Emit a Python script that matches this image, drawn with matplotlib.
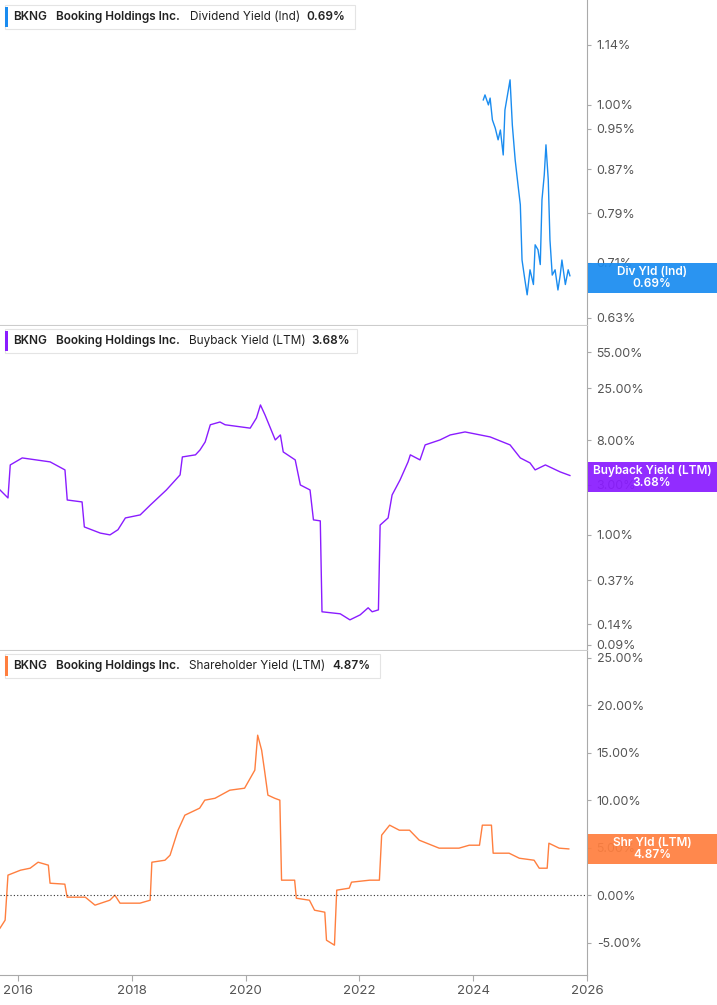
import matplotlib.pyplot as plt
from matplotlib.patches import Rectangle
import numpy as np

plt.rcParams['font.family'] = 'Inter'

# 数据 (decimal year, value)
div_pts = [(2024.16, 1.011), (2024.19, 1.022), (2024.25, 1.0), (2024.28, 1.015), (2024.32, 0.968),
           (2024.37, 0.951), (2024.42, 0.927), (2024.46, 0.947), (2024.51, 0.897), (2024.54, 0.989),
           (2024.60, 1.033), (2024.63, 1.056), (2024.67, 0.957), (2024.72, 0.887), (2024.77, 0.840),
           (2024.81, 0.805), (2024.84, 0.714), (2024.89, 0.684), (2024.93, 0.662), (2024.98, 0.699),
           (2025.04, 0.677), (2025.07, 0.738), (2025.12, 0.730), (2025.16, 0.707), (2025.19, 0.814),
           (2025.23, 0.859), (2025.26, 0.917), (2025.30, 0.850), (2025.33, 0.746), (2025.37, 0.691),
           (2025.42, 0.699), (2025.47, 0.669), (2025.51, 0.691), (2025.54, 0.714), (2025.60, 0.677),
           (2025.65, 0.699), (2025.68, 0.690)]

buyback_pts = [(2015.68, 2.68), (2015.82, 2.25), (2015.86, 4.64), (2016.07, 5.41), (2016.56, 4.96),
               (2016.82, 4.16), (2016.86, 2.15), (2017.12, 2.06), (2017.16, 1.19), (2017.44, 1.04),
               (2017.61, 1.0), (2017.75, 1.12), (2017.88, 1.45), (2018.14, 1.55), (2018.32, 1.93),
               (2018.60, 2.68), (2018.84, 3.73), (2018.88, 5.53), (2019.11, 5.79), (2019.19, 6.45),
               (2019.28, 7.68), (2019.37, 11.2), (2019.54, 11.9), (2019.63, 11.2), (2020.07, 10.4),
               (2020.18, 13.0), (2020.25, 17.3), (2020.33, 13.9), (2020.51, 8.03), (2020.60, 8.96),
               (2020.65, 6.17), (2020.86, 5.18), (2020.95, 2.99), (2021.12, 2.68), (2021.18, 1.39),
               (2021.30, 1.36), (2021.33, 0.185), (2021.65, 0.177), (2021.82, 0.155), (2022.00, 0.173),
               (2022.14, 0.202), (2022.21, 0.185), (2022.32, 0.193), (2022.35, 1.24), (2022.49, 1.45),
               (2022.56, 2.40), (2022.70, 3.34), (2022.84, 4.96), (2022.88, 5.79), (2023.05, 5.18),
               (2023.14, 7.20), (2023.40, 8.03), (2023.58, 8.96), (2023.84, 9.57), (2024.28, 8.58),
               (2024.63, 7.20), (2024.81, 5.41), (2024.98, 4.85), (2025.07, 4.16), (2025.25, 4.64),
               (2025.51, 3.98), (2025.68, 3.68)]

shr_pts = [(2015.68, -3.47), (2015.77, -2.63), (2015.82, 2.11), (2016.04, 2.63), (2016.21, 2.84),
           (2016.35, 3.47), (2016.53, 3.16), (2016.56, 1.26), (2016.82, 1.16), (2016.86, -0.21),
           (2017.18, -0.21), (2017.35, -1.05), (2017.61, -0.53), (2017.70, 0.0), (2017.79, -0.84),
           (2018.14, -0.84), (2018.32, -0.53), (2018.35, 3.47), (2018.58, 3.68), (2018.67, 4.21),
           (2018.81, 6.84), (2018.93, 8.42), (2019.19, 9.16), (2019.28, 10.0), (2019.46, 10.2),
           (2019.72, 11.05), (2019.98, 11.26), (2020.16, 13.16), (2020.21, 16.84), (2020.28, 15.26),
           (2020.33, 13.16), (2020.39, 10.53), (2020.51, 10.2), (2020.60, 10.0), (2020.63, 1.58),
           (2020.86, 1.58), (2020.89, -0.32), (2021.12, -0.53), (2021.21, -1.58), (2021.39, -1.79),
           (2021.42, -4.74), (2021.56, -5.26), (2021.60, 0.53), (2021.82, 0.74), (2021.86, 1.37),
           (2022.18, 1.58), (2022.35, 1.58), (2022.39, 6.32), (2022.53, 7.37), (2022.70, 6.84),
           (2022.88, 6.84), (2023.05, 5.79), (2023.40, 4.95), (2023.75, 4.95), (2023.93, 5.26),
           (2024.11, 5.26), (2024.16, 7.37), (2024.32, 7.37), (2024.35, 4.42), (2024.63, 4.42),
           (2024.81, 3.89), (2025.07, 3.68), (2025.16, 2.84), (2025.30, 2.84), (2025.33, 5.47),
           (2025.51, 4.95), (2025.68, 4.87)]

div_ticks = [0.63, 0.71, 0.79, 0.87, 0.95, 1.00, 1.14]
buyback_ticks = [0.09, 0.14, 0.37, 1.00, 3.00, 8.00, 25.00, 55.00]
shr_ticks = [-5, 0, 5, 10, 15, 20, 25]
year_ticks = [2016, 2018, 2020, 2022, 2024, 2026]

W, H = 717, 1005
fig = plt.figure(figsize=(W / 100, H / 100), dpi=100)

def px_axes(x0, y0, x1, y1):
    return fig.add_axes([x0 / W, 1 - y1 / H, (x1 - x0) / W, (y1 - y0) / H])

ax1 = px_axes(0, 0, 587, 325)
ax2 = px_axes(0, 326, 587, 650)
ax3 = px_axes(0, 651, 587, 975)

blue, purple, orange = '#1a8cf0', '#8a1cff', '#ff7f3f'
grey = '#555555'

for ax, pts, col in [(ax1, div_pts, blue), (ax2, buyback_pts, purple), (ax3, shr_pts, orange)]:
    x, y = np.array(pts).T
    ax.plot(x, y, color=col, lw=1.0)
    ax.set_xlim(2015.68, 2025.98)
    ax.yaxis.tick_right()
    for s in ['top', 'left']:
        ax.spines[s].set_visible(False)
    ax.spines['right'].set_color('#aaaaaa')
    ax.spines['bottom'].set_color('#cccccc')
    ax.tick_params(axis='y', labelsize=9, colors='#aaaaaa', labelcolor=grey, length=3, pad=4)

ax1.set_yscale('log')
ax1.set_ylim(0.620, 1.256)
ax1.set_yticks(div_ticks, [f'{t:.2f}%' for t in div_ticks])
ax2.set_yscale('log')
ax2.set_ylim(0.080, 97.8)
ax2.set_yticks(buyback_ticks, [f'{t:.2f}%' for t in buyback_ticks])
ax3.set_ylim(-8.4, 25.7)
ax3.set_yticks(shr_ticks, [f'{t:.2f}%' for t in shr_ticks])
ax3.axhline(0, color='#333333', lw=0.8, ls=(0, (1, 2)))
for ax in (ax1, ax2):
    ax.minorticks_off()
    ax.tick_params(axis='x', bottom=False, labelbottom=False)
ax3.set_xticks(year_ticks, [str(t) for t in year_ticks])
ax3.tick_params(axis='x', labelsize=9.5, labelcolor=grey, colors='#aaaaaa', length=4)
ax3.spines['bottom'].set_color('#aaaaaa')

# legend boxes: (x0, y0, x1, colour, name, value, name x, value x)
legends = [(5, 5, 355, blue, 'Dividend Yield (Ind)', '0.69%', 190, 306),
           (5, 329, 357, purple, 'Buyback Yield (LTM)', '3.68%', 189, 311),
           (5, 654, 380, orange, 'Shareholder Yield (LTM)', '4.87%', 189, 332)]
for x0, y0, x1, col, name, val, nx, vx in legends:
    fig.add_artist(Rectangle((x0 / W, 1 - (y0 + 24) / H), (x1 - x0) / W, 24 / H,
                             transform=fig.transFigure, fc='white', ec='#e4e4e4', lw=0.8, zorder=5))
    fig.add_artist(Rectangle((x0 / W, 1 - (y0 + 22) / H), 3 / W, 20 / H,
                             transform=fig.transFigure, fc=col, ec='none', zorder=6))
    yc = 1 - (y0 + 12) / H
    fig.text(13 / W, yc, 'BKNG', fontsize=8.5, fontweight='semibold', va='center', color='#222222', zorder=7)
    fig.text(56 / W, yc, 'Booking Holdings Inc.', fontsize=8.5, fontweight='semibold', va='center',
             color='#222222', zorder=7)
    fig.text(nx / W, yc, name, fontsize=8.5, va='center', color='#222222', zorder=7)
    fig.text(vx / W, yc, val, fontsize=8.5, fontweight='semibold', va='center', color='#222222', zorder=7)

# value tags (cover the tick labels behind them)
tags = [(263, blue, 'Div Yld (Ind)\n0.69%'),
        (462, purple, 'Buyback Yield (LTM)\n3.68%'),
        (834, orange, 'Shr Yld (LTM)\n4.87%')]
for y0, col, txt in tags:
    fig.add_artist(Rectangle((588 / W, 1 - (y0 + 30) / H), 129 / W, 30 / H,
                             transform=fig.transFigure, fc=col, ec='none', alpha=0.93, zorder=5))
    fig.text(652 / W, 1 - (y0 + 15) / H, txt, fontsize=8.5, fontweight='semibold', color='white',
             ha='center', va='center', linespacing=1.1, zorder=6)

plt.savefig('out.png', dpi=100)
